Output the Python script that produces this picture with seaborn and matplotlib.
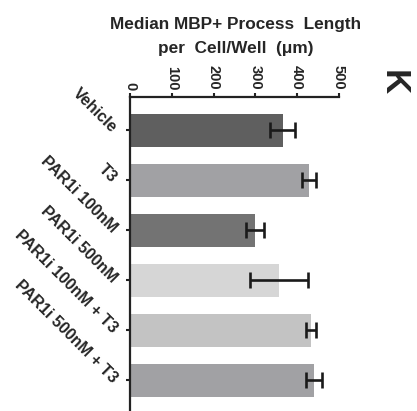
import matplotlib
matplotlib.use("Agg")
import matplotlib.pyplot as plt
import seaborn as sns
import pandas as pd

# Median MBP+ process length per cell/well, by treatment
conditions = ["Vehicle", "T3", "PAR1i 100nM", "PAR1i 500nM",
              "PAR1i 100nM + T3", "PAR1i 500nM + T3"]
median_length = [365, 429, 299, 357, 433, 440]
sem = [30, 17, 22, 70, 13, 20]
bar_colors = ["#5f5f5f", "#a0a0a5", "#737373", "#d6d6d6", "#c3c3c3", "#a0a0a5"]
x_ticks = [0, 100, 200, 300, 400, 500]

sns.set_style("white")
plt.rcParams["font.family"] = ["Liberation Sans", "DejaVu Sans"]
plt.rcParams["font.weight"] = "bold"

df = pd.DataFrame({"condition": conditions, "length": median_length})

fig = plt.figure(figsize=(4.17, 4.11), dpi=100)
ax = fig.add_axes([0.3118, 0.0, 0.501, 0.764])

sns.barplot(data=df, x="length", y="condition", hue="condition",
            palette=bar_colors, legend=False, width=0.66, ax=ax,
            edgecolor="none", linewidth=0)
ax.errorbar(median_length, range(len(conditions)), xerr=sem, fmt="none",
            ecolor="#1a1a1a", elinewidth=1.9, capsize=5.8, capthick=1.9)

ax.set_xlim(0, 500)
ax.set_ylim(5.61, -0.67)
ax.set_xticks(x_ticks)
ax.set_xticklabels([str(t) for t in x_ticks], rotation=-90, fontsize=10.5,
                   fontweight="bold")
ax.xaxis.set_ticks_position("top")
ax.xaxis.set_label_position("top")
ax.set_xlabel("")
ax.set_ylabel("")

ax.set_yticks(range(len(conditions)))
ax.set_yticklabels(conditions, rotation=-45, ha="right", va="center",
                   rotation_mode="anchor", fontsize=11.6, fontweight="bold")

for side in ["right", "bottom"]:
    ax.spines[side].set_visible(False)
for side in ["top", "left"]:
    ax.spines[side].set_linewidth(1.6)
    ax.spines[side].set_color("#222222")
ax.tick_params(axis="x", which="major", top=True, bottom=False, length=3,
               width=1.5, pad=2, color="#222222")
ax.tick_params(axis="y", which="major", left=True, length=3, width=1.5,
               pad=8, color="#222222")

fig.text(0.566, 0.94, "Median MBP+ Process  Length", ha="center", va="center",
         fontsize=12.4, fontweight="bold")
fig.text(0.566, 0.882, "per  Cell/Well  (\u03bcm)", ha="center", va="center",
         fontsize=12.4, fontweight="bold")
fig.text(0.943, 0.8, "K", ha="center", va="center", rotation=-90,
         fontsize=25, fontweight="bold")

fig.savefig("out.png", dpi=100)
